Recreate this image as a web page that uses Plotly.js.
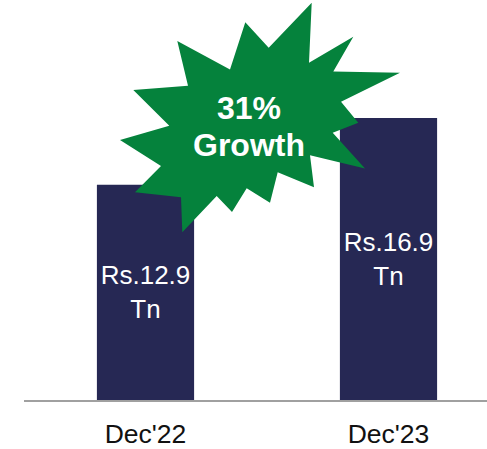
<!DOCTYPE html>
<html>
<head>
<meta charset="utf-8">
<script src="https://cdn.plot.ly/plotly-3.0.1.min.js"></script>
<style>html,body{margin:0;padding:0;background:#fff}#c{width:487px;height:449px}</style>
</head>
<body>
<div id="c"></div>
<script>
const categories = ["Dec'22", "Dec'23"];
const values = [12.9, 16.9];
const barLabels = ["Rs.12.9<br>Tn", "Rs.16.9<br>Tn"];
const badgeLines = ["31%", "Growth"];
const badgeLineCenters = [108, 145];
const starPixels = [[311.7,2.7],[309,62.7],[353.3,36.7],[333.3,71.5],[400,72.7],[341,101.7],[358.3,122.7],[332.7,132.7],[365,168.5],[310,155.3],[314,187.3],[277.7,172.3],[270,202.7],[246.7,188.3],[232,212],[216.7,196],[182.3,232.3],[181,197.3],[135,192.3],[161,166],[120,140],[169.3,125.7],[133.3,90],[188,85.7],[177.3,41],[230,69.5],[245.3,22.3],[268.7,47.7]];

const W = 487, H = 449, L = 24, B = 49;
const plotW = W - L, plotH = H - B;
const toPaper = p => [(p[0] - L) / plotW, (plotH - p[1]) / plotH];
const starPath = 'M' + starPixels.map(p => toPaper(p).join(',')).join('L') + 'Z';

const fontFamily = 'Liberation Sans, Arial, sans-serif';
Plotly.newPlot('c', [{
  type: 'bar',
  x: categories,
  y: values,
  width: 0.4,
  marker: {color: '#262854', line: {width: 0}},
  text: barLabels,
  textposition: 'inside',
  insidetextanchor: 'middle',
  textangle: 0,
  constraintext: 'none',
  insidetextfont: {family: fontFamily, size: 26, color: '#ffffff'},
  hoverinfo: 'skip'
}], {
  width: W, height: H,
  margin: {l: L, r: 0, t: 0, b: B, pad: 0},
  paper_bgcolor: '#ffffff',
  plot_bgcolor: '#ffffff',
  showlegend: false,
  xaxis: {
    type: 'category',
    range: [-0.5, plotW / 243 - 0.5],
    showgrid: false, zeroline: false,
    showline: true, linecolor: '#a0a0a0', linewidth: 1.5,
    ticks: 'outside', ticklen: 10, tickcolor: 'rgba(0,0,0,0)',
    tickfont: {family: fontFamily, size: 26.5, color: '#111111'}
  },
  yaxis: {
    range: [0, plotH / (282 / 16.9)],
    visible: false, showgrid: false, zeroline: false
  },
  shapes: [{
    type: 'path', xref: 'paper', yref: 'paper', layer: 'above',
    path: starPath, fillcolor: '#05823C', line: {width: 0}
  }],
  annotations: badgeLines.map((t, i) => ({
    xref: 'paper', yref: 'paper',
    x: (249 - L) / plotW, y: (plotH - badgeLineCenters[i]) / plotH,
    xanchor: 'center', yanchor: 'middle', showarrow: false,
    text: '<b>' + t + '</b>',
    font: {family: fontFamily, size: 32, color: '#ffffff'}
  }))
}, {displayModeBar: false, staticPlot: true});
</script>
</body>
</html>
